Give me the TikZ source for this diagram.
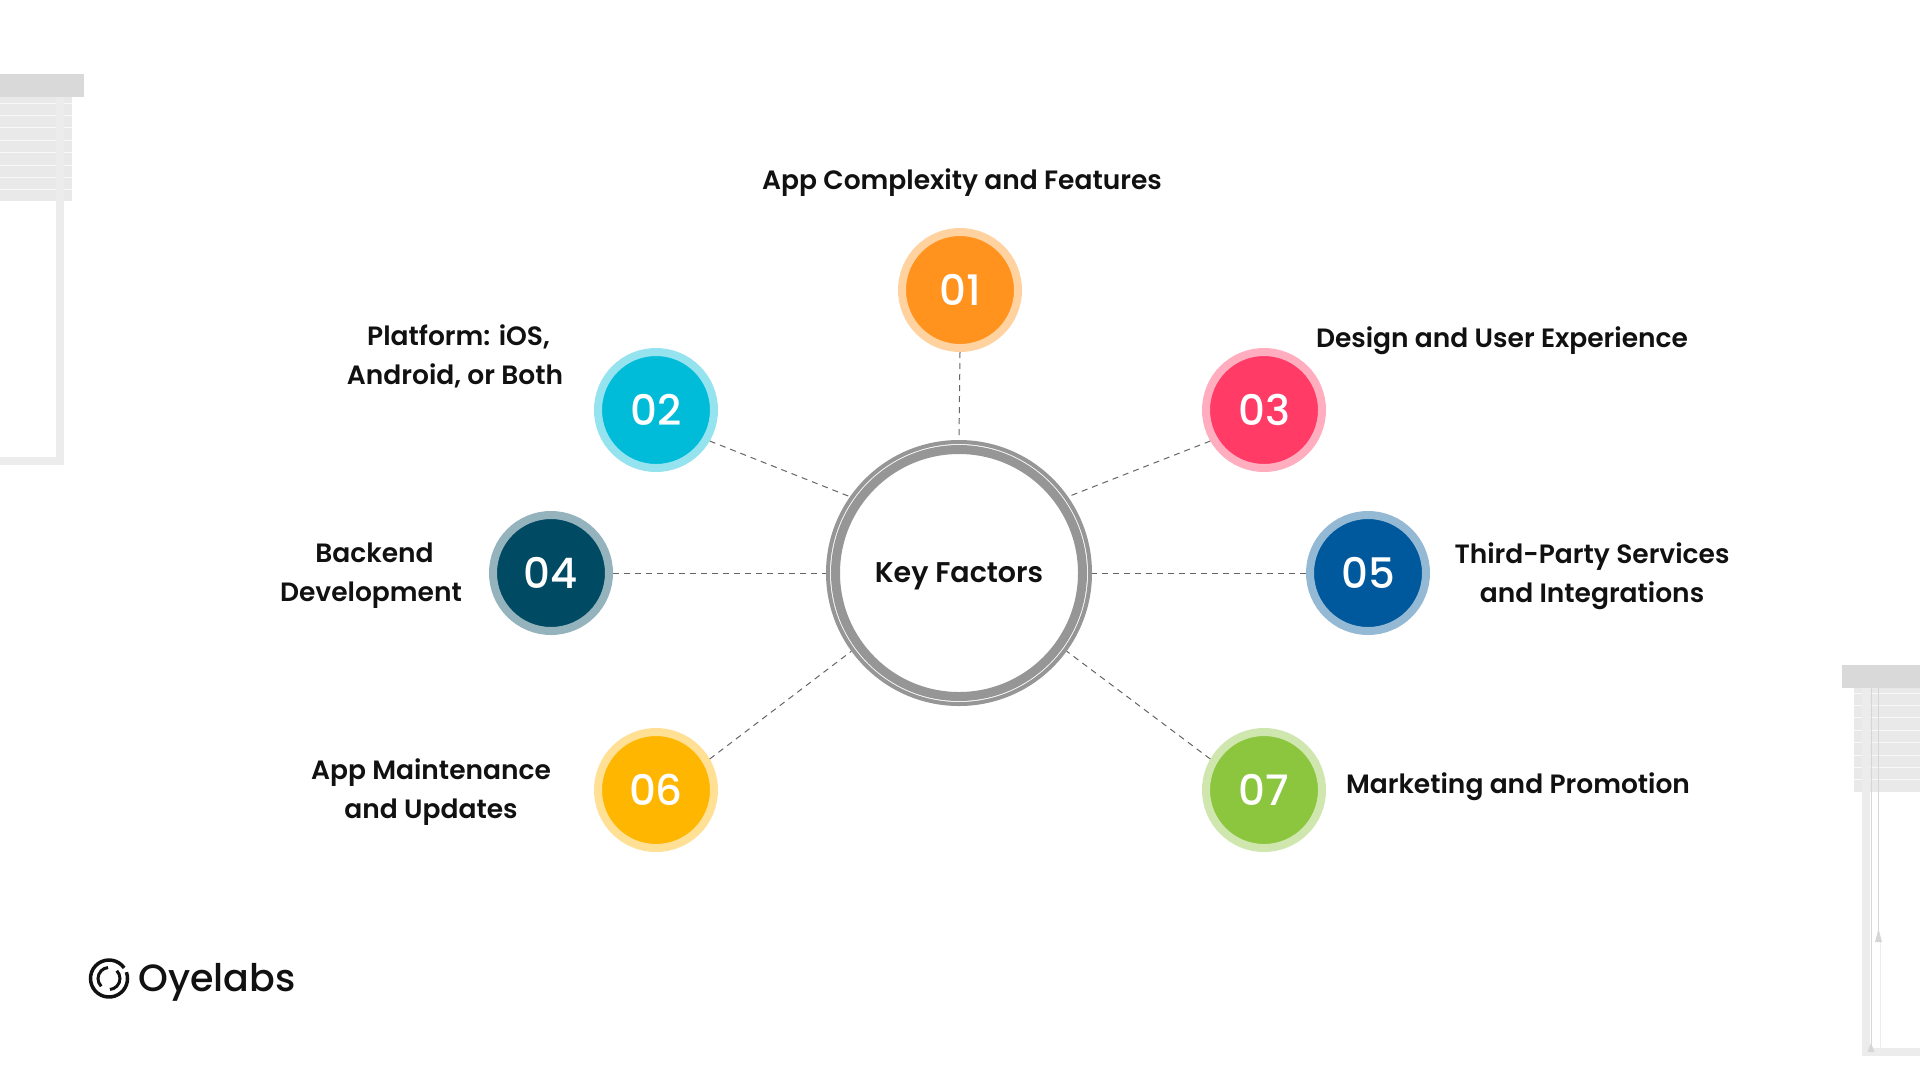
\documentclass[tikz,border=0pt]{standalone}
\usepackage{fontspec}
\setmainfont{Poppins}[UprightFont=* Medium,BoldFont=* SemiBold]
\usepackage{xcolor}

\definecolor{ringgrey}{HTML}{969696}
\definecolor{blindbar}{HTML}{D9D9D9}
\definecolor{blindslat}{HTML}{E9E9E9}
\definecolor{blindframe}{HTML}{ECECEC}
\definecolor{cordgrey}{HTML}{D6D6D6}
\definecolor{linegrey}{HTML}{666666}
\definecolor{ink}{HTML}{111111}
\definecolor{c01}{HTML}{FF931E}
\definecolor{c02}{HTML}{00BCD9}
\definecolor{c03}{HTML}{FF3B66}
\definecolor{c04}{HTML}{004A63}
\definecolor{c05}{HTML}{00599C}
\definecolor{c06}{HTML}{FFB600}
\definecolor{c07}{HTML}{8CC63F}

\tikzset{
  numdot/.style={circle,fill=#1,draw=#1!42!white,line width=8pt,minimum size=116pt,inner sep=0pt,
    text=white,font=\fontsize{42}{42}\selectfont},
  factor/.style={align=center,text=ink,font=\fontsize{26.5}{39}\selectfont\bfseries},
  spoke/.style={draw=linegrey,line width=1pt,dash pattern=on 6pt off 5pt},
  logoarc/.style={draw=ink,line width=3.5pt}
}

\begin{document}
\begin{tikzpicture}[x=1pt,y=-1pt]
\path[use as bounding box,fill=white] (0,0) rectangle (1920,1080);

% left blind
\fill[blindslat] (0,97) rectangle (72,201);
\foreach \k in {0,...,7}
  \draw[white!70!blindslat,line width=1pt] (0,{103+12.4*\k}) -- (72,{103+12.4*\k});
\fill[blindframe] (56,97) rectangle (64,465);
\fill[blindframe] (0,457) rectangle (64,465);
\fill[blindbar] (0,74) rectangle (84,97);

% right blind
\fill[blindslat] (1854,688) rectangle (1920,792);
\foreach \k in {0,...,7}
  \draw[white!70!blindslat,line width=1pt] (1854,{693+12.4*\k}) -- (1920,{693+12.4*\k});
\fill[blindframe] (1862,688) rectangle (1870,1056);
\fill[blindframe] (1862,1048) rectangle (1920,1056);
\fill[blindbar] (1842,665) rectangle (1920,688);
\draw[cordgrey,line width=1pt] (1871,688) -- (1871,1045);
\draw[cordgrey,line width=1pt] (1878,688) -- (1878,932);
\draw[blindframe,line width=.5pt] (1880,942) -- (1880,1048);
\fill[cordgrey] (1878.5,929) -- (1875,942) -- (1882,942) -- cycle;
\fill[cordgrey] (1871,1043) -- (1867.5,1052) -- (1874.5,1052) -- cycle;

% centre
\node[circle,draw=ringgrey,line width=4pt,minimum size=262pt,inner sep=0pt,text=ink,text depth=0pt,
  font=\fontsize{28.5}{28.5}\selectfont\bfseries] (hub) at (959,573) {Key Factors};
\draw[ringgrey,line width=9pt] (hub.center) circle (123.5);

% numbered circles
\node[numdot=c01] (n01) at (960,290) {01};
\node[numdot=c02] (n02) at (656,410) {02};
\node[numdot=c03] (n03) at (1264,410) {03};
\node[numdot=c04] (n04) at (551,573) {04};
\node[numdot=c05] (n05) at (1368,573) {05};
\node[numdot=c06] (n06) at (656,790) {06};
\node[numdot=c07] (n07) at (1264,790) {07};

% spokes
\draw[spoke] (n01.south) -- (hub.north);
\draw[spoke] (n02.-30) -- (hub.145);
\draw[spoke] (n03.210) -- (hub.35);
\draw[spoke] (n04.east) -- (hub.west);
\draw[spoke] (n05.west) -- (hub.east);
\draw[spoke] (n06.30) -- (hub.216);
\draw[spoke] (n07.150) -- (hub.-36);

% labels
\node[factor] (t01) at (962,183) {App Complexity and Features};
\node[factor] (t02) at (455,356) {\hspace*{7pt}Platform: iOS,\\Android, or Both};
\node[factor] (t03) at (1502,341) {Design and User Experience};
\node[factor] (t04) at (371,576) {\hspace*{7pt}Backend\\Development};
\node[factor] (t05) at (1592,576) {Third-Party Services\\and Integrations};
\node[factor] (t06) at (431,792) {App Maintenance\\and Updates};
\node[factor] (t07) at (1518,787) {Marketing and Promotion};

% logo
\coordinate (logo) at (109,978.5);
\draw[logoarc] (logo) ++(150:18.5) arc (150:-20:18.5);
\draw[logoarc] (logo) ++(-35:18.5) arc (-35:-215:18.5);
\draw[logoarc,line width=3pt] (logo) ++(135:11) arc (135:265:11);
\draw[logoarc,line width=3pt] (logo) ++(-45:11) arc (-45:85:11);
\node[anchor=west,text=ink,font=\fontsize{38}{38}\selectfont] (brand) at (135,982.5) {Oyelabs};
\end{tikzpicture}
\end{document}
